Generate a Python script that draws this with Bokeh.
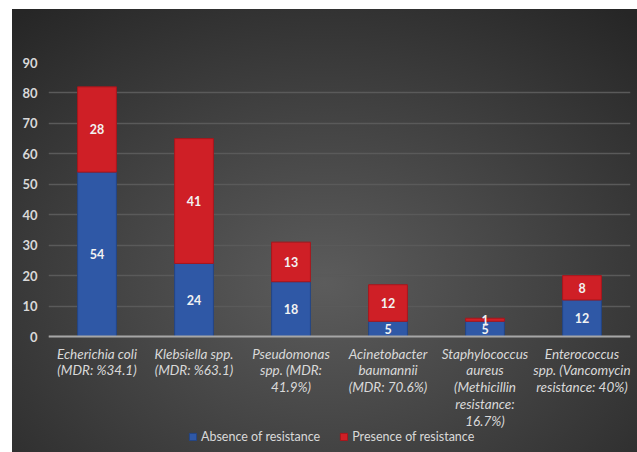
from bokeh.plotting import figure
from bokeh.models import ColumnDataSource, Range1d, FactorRange, Legend, FixedTicker
from bokeh.core.properties import value
from bokeh.embed import file_html
from bokeh.resources import INLINE

categories = [
    "Echerichia coli\n(MDR: %34.1)",
    "Klebsiella spp.\n(MDR: %63.1)",
    "Pseudomonas\nspp. (MDR:\n41.9%)",
    "Acinetobacter\nbaumannii\n(MDR: 70.6%)",
    "Staphylococcus\naureus\n(Methicillin\nresistance:\n16.7%)",
    "Enterococcus\nspp. (Vancomycin\nresistance: 40%)",
]
absence = [54, 24, 18, 5, 5, 12]
presence = [28, 41, 13, 12, 1, 8]
series_names = ["Absence of resistance", "Presence of resistance"]
y_ticks = [0, 10, 20, 30, 40, 50, 60, 70, 80, 90]
y_max = 90
y_space_below = 38.1   # room below the zero line for category labels and legend

FONT = "Lato"
TXT = "#d9d9d9"
BLUE = "#2f58a6"
RED = "#cf1f26"

src = ColumnDataSource(dict(cat=categories, absence=absence, presence=presence))

p = figure(
    x_range=FactorRange(*categories, range_padding=0.0),
    y_range=Range1d(-y_space_below, y_max),
    width=625, height=443,
    output_backend="svg", toolbar_location=None,
    min_border_left=36, min_border_right=7, min_border_top=53, min_border_bottom=0,
)
p.margin = (9, 0, 0, 12)
p.styles = {"background-image": "radial-gradient(ellipse 75% 80% at 50% 62%, #5c5c5c 0%, #444444 45%, #262626 100%)"}
p.background_fill_color = None
p.border_fill_color = None
p.outline_line_color = None

rs = p.vbar_stack(["absence", "presence"], x="cat", width=0.4, source=src,
                  color=[BLUE, RED], line_color=["#234585", "#a8161c"], line_width=1)

# segment labels
mid_a = [a / 2 for a in absence]
mid_p = [a + b / 2 for a, b in zip(absence, presence)]
lab = ColumnDataSource(dict(x=categories + categories,
                            y=mid_a + mid_p,
                            t=[str(v) for v in absence + presence]))
p.text(x="x", y="y", text="t", source=lab, text_align="center", text_baseline="middle",
       text_color="#f2f2f2", text_font=value(FONT), text_font_style="bold",
       text_font_size="12.5px")

# axes
p.yaxis.ticker = FixedTicker(ticks=y_ticks)
p.yaxis.axis_line_color = None
p.yaxis.major_tick_line_color = None
p.yaxis.minor_tick_line_color = None
p.yaxis.major_tick_out = 0
p.yaxis.major_label_text_color = TXT
p.yaxis.major_label_text_font = FONT
p.yaxis.major_label_text_font_style = "bold"
p.yaxis.major_label_text_font_size = "13px"
p.yaxis.major_label_standoff = 11

p.xaxis.fixed_location = 0
p.xaxis.axis_line_color = "#a6a6a6"
p.xaxis.axis_line_width = 2
p.xaxis.major_tick_line_color = None
p.xaxis.major_tick_out = 0
p.xaxis.major_label_text_color = TXT
p.xaxis.major_label_text_font = FONT
p.xaxis.major_label_text_font_style = "italic"
p.xaxis.major_label_text_font_size = "13.5px"
p.xaxis.major_label_text_line_height = 1.05
p.xaxis.major_label_text_align = "center"
p.xaxis.major_label_standoff = 9

p.xgrid.grid_line_color = None
p.ygrid.grid_line_color = "#5a5a5a"
p.ygrid.grid_line_width = 1.5

legend = Legend(items=[(series_names[0], [rs[0]]), (series_names[1], [rs[1]])],
                orientation="horizontal", location=(140, 8))
legend.background_fill_alpha = 0
legend.border_line_color = None
legend.label_text_color = TXT
legend.label_text_font = FONT
legend.label_text_font_size = "12.5px"
legend.glyph_width = 9
legend.glyph_height = 9
legend.spacing = 19
legend.label_standoff = 4
legend.padding = 2
legend.margin = 0
p.add_layout(legend, "center")

open("out.html", "w").write(file_html(p, INLINE))
